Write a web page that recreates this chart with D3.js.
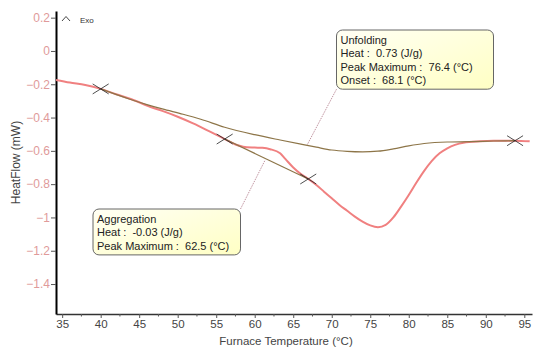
<!DOCTYPE html>
<html>
<head>
<meta charset="utf-8">
<script src="https://cdn.jsdelivr.net/npm/d3@7"></script>
<style>
  body { margin: 0; background: #fff; }
  svg { font-family: "Liberation Sans", Arial, sans-serif; }
  .box-text { white-space: pre; }
</style>
</head>
<body>
<svg id="chart" width="538" height="347"></svg>
<script>
// heat flow curve (temperature °C, mW)
const tempHeat = [34.2, 36, 38, 40, 42, 44, 46.4, 48, 50, 52, 54, 56.1, 57.5, 58.5, 60, 61, 62, 63.3, 64, 65, 66, 67, 68, 69, 70, 71, 72, 73, 74, 75, 76, 77, 78, 79, 80, 81, 82, 83, 84, 85, 86, 87.1, 89.3, 91, 93.8, 95.7];
const heatFlow = [-0.174, -0.19, -0.205, -0.228, -0.26, -0.29, -0.335, -0.36, -0.395, -0.435, -0.48, -0.529, -0.562, -0.575, -0.58, -0.582, -0.59, -0.615, -0.65, -0.7, -0.74, -0.77, -0.805, -0.845, -0.885, -0.925, -0.96, -0.995, -1.025, -1.048, -1.059, -1.045, -1.0, -0.935, -0.865, -0.79, -0.72, -0.66, -0.615, -0.585, -0.564, -0.551, -0.543, -0.54, -0.539, -0.543];

// unfolding baseline
const tempBaseU = [40, 43.8, 46, 48, 50.7, 53, 56.1, 60, 63.3, 66, 68, 70, 72, 74, 76, 78, 80, 82, 85, 88, 91, 93.8];
const baseU = [-0.228, -0.29, -0.322, -0.348, -0.38, -0.41, -0.458, -0.503, -0.535, -0.56, -0.578, -0.595, -0.603, -0.606, -0.602, -0.588, -0.57, -0.556, -0.547, -0.545, -0.541, -0.539];

// aggregation baseline
const tempBaseA = [56.1, 66.95];
const baseA = [-0.529, -0.769];

// integration limits
const markTemp = [40, 56.1, 66.95, 93.8];
const markVal = [-0.228, -0.529, -0.769, -0.539];

const xTicks = [35, 40, 45, 50, 55, 60, 65, 70, 75, 80, 85, 90, 95];
const yTicks = [0.2, 0, -0.2, -0.4, -0.6, -0.8, -1, -1.2, -1.4];

const unfoldingLines = ["Unfolding", "Heat :  0.73 (J/g)", "Peak Maximum :  76.4 (°C)", "Onset :  68.1 (°C)"];
const unfoldingPoint = [66.8, -0.565];
const aggregationLines = ["Aggregation", "Heat :  -0.03 (J/g)", "Peak Maximum :  62.5 (°C)"];
const aggregationPoint = [61.3, -0.66];

const svg = d3.select("#chart");
const margin = { top: 11, right: 6, bottom: 33, left: 56 };
const width = +svg.attr("width") - margin.left - margin.right;
const height = +svg.attr("height") - margin.top - margin.bottom;

const x = d3.scaleLinear().domain([34.2, 96]).range([margin.left, margin.left + width]);
const y = d3.scaleLinear().domain([-1.58, 0.24]).range([margin.top + height, margin.top]);

const defs = svg.append("defs");
const grad = defs.append("linearGradient").attr("id", "boxfill").attr("x1", 0).attr("y1", 0).attr("x2", 1).attr("y2", 1);
grad.append("stop").attr("offset", "0%").attr("stop-color", "#fffff4");
grad.append("stop").attr("offset", "100%").attr("stop-color", "#ffffc4");

// x axis
const xAxis = svg.append("g")
    .attr("transform", `translate(0,${margin.top + height})`)
    .call(d3.axisBottom(x).tickValues(xTicks).tickSize(4).tickSizeOuter(0));
xAxis.select(".domain").attr("stroke", "#333").attr("stroke-width", 1.5);
xAxis.selectAll(".tick line").attr("stroke", "#555");
xAxis.selectAll(".tick text").attr("fill", "#444").attr("font-size", 11.5).attr("y", 6);

const minorX = d3.range(37.5, 96, 5);
xAxis.selectAll(".minor").data(minorX).enter().append("line")
    .attr("class", "minor")
    .attr("x1", d => x(d)).attr("x2", d => x(d))
    .attr("y1", 0).attr("y2", 2.5)
    .attr("stroke", "#555");

// y axis
const yAxis = svg.append("g")
    .attr("transform", `translate(${margin.left},0)`)
    .call(d3.axisLeft(y).tickValues(yTicks).tickSize(5).tickSizeOuter(0).tickFormat(d3.format("")));
yAxis.select(".domain").attr("stroke", "#000").attr("stroke-width", 2);
yAxis.selectAll(".tick line").attr("stroke", "#555");
yAxis.selectAll(".tick text").attr("fill", "#e09a9a").attr("font-size", 12).attr("x", -6);

svg.append("text")
    .attr("transform", `translate(20,${margin.top + height / 2}) rotate(-90)`)
    .attr("text-anchor", "middle")
    .attr("font-size", 12)
    .attr("fill", "#444")
    .text("HeatFlow (mW)");

svg.append("text")
    .attr("x", margin.left + width / 2 - 8)
    .attr("y", 345)
    .attr("text-anchor", "middle")
    .attr("font-size", 11.5)
    .attr("fill", "#444")
    .text("Furnace Temperature (°C)");

// Exo marker
svg.append("path")
    .attr("d", "M62,21 L66,16.5 L70,21")
    .attr("fill", "none")
    .attr("stroke", "#333")
    .attr("stroke-width", 0.9);
svg.append("text")
    .attr("x", 80).attr("y", 23)
    .attr("font-size", 8)
    .attr("fill", "#333")
    .text("Exo");

const line = d3.line()
    .x(d => x(d[0]))
    .y(d => y(d[1]))
    .curve(d3.curveMonotoneX);

const heatData = tempHeat.map((t, i) => [t, heatFlow[i]]);
const baseUData = tempBaseU.map((t, i) => [t, baseU[i]]);
const baseAData = tempBaseA.map((t, i) => [t, baseA[i]]);

svg.append("path")
    .datum(heatData)
    .attr("d", line)
    .attr("fill", "none")
    .attr("stroke", "#f08080")
    .attr("stroke-width", 2);

svg.append("path")
    .datum(baseUData)
    .attr("d", line)
    .attr("fill", "none")
    .attr("stroke", "#8d7548")
    .attr("stroke-width", 1.2);

svg.append("path")
    .datum(baseAData)
    .attr("d", d3.line().x(d => x(d[0])).y(d => y(d[1])))
    .attr("fill", "none")
    .attr("stroke", "#8d7548")
    .attr("stroke-width", 1.2);

// x markers
markTemp.forEach((t, i) => {
    const cx = x(t), cy = y(markVal[i]);
    svg.append("path")
        .attr("d", `M${cx - 8},${cy - 5} L${cx + 8},${cy + 5} M${cx - 8},${cy + 5} L${cx + 8},${cy - 5}`)
        .attr("stroke", "#222")
        .attr("stroke-width", 0.8);
});

// annotation boxes
function annotate(lines, point, bx, by, bw, corner) {
    const bh = lines.length * 13.3 + 6;
    const ax = corner === "bl" ? bx : bx + bw;
    const ay = corner === "bl" ? by + bh : by;
    svg.append("line")
        .attr("x1", ax).attr("y1", ay)
        .attr("x2", x(point[0])).attr("y2", y(point[1]))
        .attr("stroke", "#b07888")
        .attr("stroke-width", 0.8)
        .attr("stroke-dasharray", "1.5,1");
    svg.append("rect")
        .attr("x", bx).attr("y", by)
        .attr("width", bw).attr("height", bh)
        .attr("rx", 6)
        .attr("fill", "url(#boxfill)")
        .attr("stroke", "#666")
        .attr("stroke-width", 1);
    svg.append("g").selectAll("text").data(lines).enter().append("text")
        .attr("class", "box-text")
        .attr("x", bx + 4)
        .attr("y", (d, i) => by + 14 + i * 13.3)
        .attr("font-size", 11)
        .attr("fill", "#222")
        .text(d => d);
}

annotate(unfoldingLines, unfoldingPoint, 336.5, 30, 157, "bl");
annotate(aggregationLines, aggregationPoint, 93, 209, 147.5, "tr");
</script>
</body>
</html>
